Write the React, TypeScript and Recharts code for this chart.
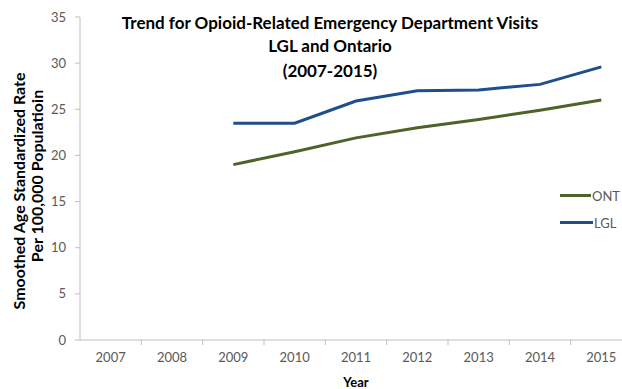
import React from "react";
import {
  LineChart,
  Line,
  XAxis,
  YAxis,
  Legend,
} from "recharts";

const years = [2007, 2008, 2009, 2010, 2011, 2012, 2013, 2014, 2015];
const ontValues = [null, null, 19.0, 20.4, 21.9, 23.0, 23.9, 24.9, 26.0];
const lglValues = [null, null, 23.5, 23.5, 25.9, 27.0, 27.1, 27.7, 29.6];
const yTicks = [0, 5, 10, 15, 20, 25, 30, 35];

const data = years.map((year, i) => ({
  year,
  ONT: ontValues[i],
  LGL: lglValues[i],
}));

const FONT = "Lato, 'Open Sans', sans-serif";
const AXIS_GREY = "#BFBFBF";
const TEXT_GREY = "#595959";
const ONT_COLOR = "#4F6228";
const LGL_COLOR = "#1F4E8C";
const X_TICK_MARGIN = 13;

const seriesList = [
  { key: "ONT", color: ONT_COLOR },
  { key: "LGL", color: LGL_COLOR },
];

// year label in the middle of its slot, tick mark on the slot's right edge
const YearTick = (props: any) => {
  const { x, y, payload, width } = props;
  const half = width / years.length / 2;
  const axisY = y - X_TICK_MARGIN;
  return (
    <g>
      <line
        x1={x + half}
        x2={x + half}
        y1={axisY}
        y2={axisY + 5}
        stroke={AXIS_GREY}
      />
      <text
        x={x}
        y={y}
        dy="0.71em"
        textAnchor="middle"
        fill={TEXT_GREY}
        fontSize={13}
        fontFamily={FONT}
      >
        {payload.value}
      </text>
    </g>
  );
};

const renderLegend = () => (
  <div style={{ fontFamily: FONT, fontSize: 13, color: TEXT_GREY }}>
    {seriesList.map((s) => (
      <div
        key={s.key}
        style={{ display: "flex", alignItems: "center", height: 27 }}
      >
        <span
          style={{
            display: "inline-block",
            width: 33,
            height: 3,
            background: s.color,
            marginRight: 1,
          }}
        />
        <span>{s.key}</span>
      </div>
    ))}
  </div>
);

const App: React.FC = () => {
  return (
    <div
      style={{
        position: "absolute",
        left: 0,
        top: 0,
        width: 622,
        height: 389,
        overflow: "hidden",
        background: "white",
      }}
    >
      <LineChart
        width={640}
        height={389}
        data={data}
        margin={{ top: 17, right: 8, left: 0, bottom: 0 }}
      >
        <XAxis
          dataKey="year"
          type="number"
          domain={[2006.5, 2015.5]}
          ticks={years}
          interval={0}
          tickLine={false}
          axisLine={{ stroke: AXIS_GREY }}
          tickSize={0}
          tickMargin={X_TICK_MARGIN}
          height={49}
          tick={<YearTick />}
        />
        <YAxis
          domain={[0, 35]}
          ticks={yTicks}
          interval={0}
          width={80}
          tickSize={5}
          tickMargin={9}
          tickLine={{ stroke: AXIS_GREY }}
          axisLine={{ stroke: AXIS_GREY }}
          tick={{ fill: TEXT_GREY, fontSize: 13, fontFamily: FONT }}
        />
        <Legend
          layout="vertical"
          align="center"
          verticalAlign="middle"
          content={renderLegend}
          wrapperStyle={{ position: "absolute", left: 560, top: 182, width: 60 }}
        />
        {seriesList.map((s) => (
          <Line
            key={s.key}
            type="linear"
            dataKey={s.key}
            stroke={s.color}
            strokeWidth={3}
            dot={false}
            activeDot={false}
            connectNulls={false}
            isAnimationActive={false}
          />
        ))}
        <text
          textAnchor="middle"
          fontFamily={FONT}
          fontWeight="bold"
          fontSize={17}
          fill="#000"
        >
          <tspan x={330} y={29}>
            Trend for Opioid-Related Emergency Department Visits
          </tspan>
          <tspan x={330} y={52}>
            LGL and Ontario
          </tspan>
          <tspan x={330} y={77}>
            (2007-2015)
          </tspan>
        </text>
        <text
          transform="translate(25,191) rotate(-90)"
          textAnchor="middle"
          fontFamily={FONT}
          fontWeight="bold"
          fontSize={16}
          fill="#000"
        >
          Smoothed Age Standardized Rate
        </text>
        <text
          transform="translate(43,176) rotate(-90)"
          textAnchor="middle"
          fontFamily={FONT}
          fontWeight="bold"
          fontSize={16}
          fill="#000"
        >
          Per 100,000 Populatioin
        </text>
        <text
          x={356}
          y={387}
          textAnchor="middle"
          fontFamily={FONT}
          fontWeight="bold"
          fontSize={13}
          fill="#000"
        >
          Year
        </text>
      </LineChart>
    </div>
  );
};

export default App;
